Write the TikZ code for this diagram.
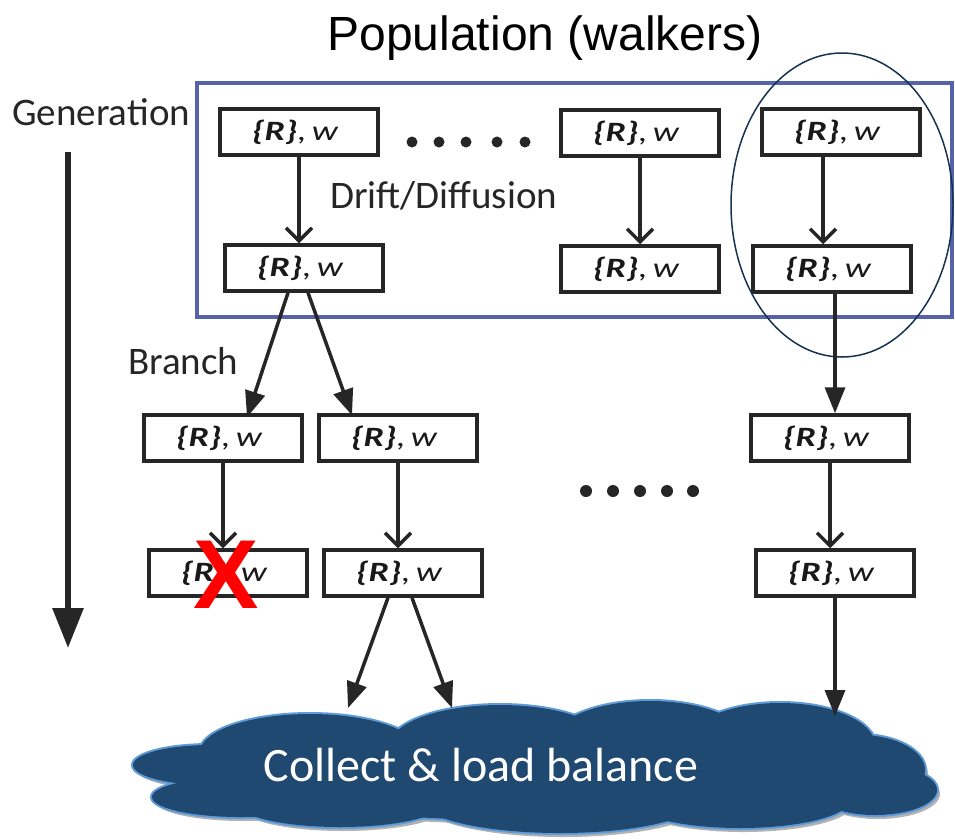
\documentclass[tikz,border=0pt]{standalone}
\usepackage{fontspec}
\setmainfont{Carlito}
\newfontfamily\arialfont{Liberation Sans}
\newfontfamily\boxfont[FakeStretch=1.3]{Carlito}
\usetikzlibrary{arrows.meta}
\definecolor{framec}{RGB}{86,98,170}
\definecolor{ringc}{RGB}{22,50,82}
\definecolor{cloudc}{RGB}{31,73,112}
\definecolor{cloudedge}{RGB}{95,155,215}
\definecolor{linec}{RGB}{38,38,38}

\begin{document}
\begin{tikzpicture}[x=1pt,y=-1pt]

\tikzset{walker/.style = {draw=linec, line width=3.5pt, minimum width=158pt, minimum height=46pt, inner sep=0pt, font=\boxfont\fontsize{28}{30}\selectfont\itshape, text=black!90}}
\tikzset{label/.style = {anchor=base west, inner sep=0pt, font=\fontsize{39}{42}\selectfont, text=black!85}}
\tikzset{move/.style = {draw=linec, line width=3.5pt, -{Straight Barb[length=13pt,width=26pt]}}}
\tikzset{branch/.style = {draw=linec, line width=3.5pt, -{Triangle[length=26pt,width=20pt]}}}
\newcommand{\rw}{\textbf{\{R\}},\hspace{5pt}w\hspace*{8pt}}
\newcommand{\puffs}{310/752/110/38, 210/765/77/20, 240/797/88/20, 340/805/100/22,
  500/745/110/40, 650/744/100/43, 780/745/95/42, 860/770/65/35, 875/790/62/25,
  560/800/140/33, 740/800/110/28, 520/775/300/45}

\useasboundingbox (0,0) rectangle (955,839);

%titles
\node[anchor=base, inner sep=0pt, font=\arialfont\fontsize{48}{52}\selectfont] (pop) at (545,50) {Population (walkers)};
\node[label] (gen) at (12,125) {Generation};
\node[label] (drift) at (330,208) {Drift/Diffusion};
\node[label] (br) at (128,374) {Branch};

%population frame
\draw[framec, line width=4pt] (197,83) rectangle (952,317);

%walkers
\node[walker] (t1) at (299,132) {\rw};
\node[walker] (t2) at (640,133) {\rw};
\node[walker] (t3) at (841,132) {\rw};
\node[walker] (s1) at (304,268) {\rw};
\node[walker] (s2) at (640,269) {\rw};
\node[walker] (s3) at (832,269) {\rw};
\node[walker] (b1) at (223,438) {\rw};
\node[walker] (b2) at (398,438) {\rw};
\node[walker] (b3) at (830,438) {\rw};
\node[walker] (c1) at (228,573) {\rw};
\node[walker] (c2) at (403,573) {\rw};
\node[walker] (c3) at (835,573) {\rw};

%one walker
\draw[ringc, line width=1.5pt] (842,205) ellipse [x radius=111, y radius=152];

%dots
\foreach \x in {412,439,466,497,525} \fill[black!85] (\x,142) circle (5.5pt);
\foreach \x in {586,613,640,667,693} \fill[black!85] (\x,491) circle (6pt);

%generation arrow
\coordinate (gtop) at (68,152);
\coordinate (gbot) at (68,648);
\draw[draw=linec, line width=6pt, -{Triangle[length=40pt,width=30pt]}] (gtop) -- (gbot);

%collect cloud
\begin{scope}[transparency group, opacity=0.3]
\foreach \cx/\cy/\rx/\ry in \puffs \fill[black] (\cx+3,\cy+4) ellipse [x radius=\rx, y radius=\ry];
\end{scope}
\foreach \cx/\cy/\rx/\ry in \puffs \draw[cloudedge, line width=4pt, fill=cloudc] (\cx,\cy) ellipse [x radius=\rx, y radius=\ry];
\foreach \cx/\cy/\rx/\ry in \puffs \fill[cloudc] (\cx,\cy) ellipse [x radius=\rx, y radius=\ry];
\node[text=white, font=\fontsize{48}{52}\selectfont] (pool) at (481,765) {Collect \& load balance};
\coordinate (in1) at (348,708);
\coordinate (in2) at (452,708);
\coordinate (in3) at (835,716);

%edges
\draw[move] (t1.south) -- (t1.south |- s1.north);
\draw[move] (t2.south) -- (s2.north);
\draw[move] ([xshift=-18pt]t3.south) -- ([xshift=-9pt]s3.north);
\draw[branch] ([xshift=-16pt]s1.south) -- ([xshift=24pt,yshift=-4pt]b1.north);
\draw[branch] ([xshift=4pt]s1.south) -- ([xshift=-46pt,yshift=-2pt]b2.north);
\draw[branch] ([xshift=3pt]s3.south) -- ([xshift=5pt]b3.north);
\draw[move] (b1.south) -- (c1.north -| b1.south);
\draw[move] (b2.south) -- (c2.north -| b2.south);
\draw[move] (b3.south) -- (c3.north -| b3.south);
\draw[branch] ([xshift=-15pt]c2.south) -- (in1);
\draw[branch] ([xshift=9pt]c2.south) -- (in2);
\draw[branch] (c3.south) -- (in3);

%dead walker
\node[text=red, font=\arialfont\bfseries\fontsize{98}{100}\selectfont] (dead) at (226,575) {X};

\end{tikzpicture}
\end{document}
